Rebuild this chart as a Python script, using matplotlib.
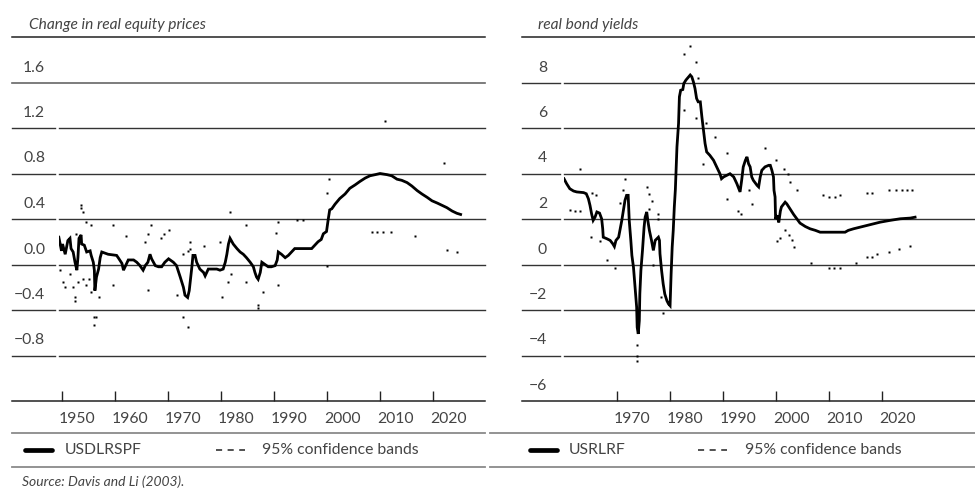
import matplotlib.pyplot as plt
from matplotlib.transforms import blended_transform_factory, ScaledTranslation

plt.rcParams['font.family'] = ['Lato', 'DejaVu Sans']

# ---- left panel: change in real equity prices ----
eq_years = [1949.4, 1949.9, 1950.1, 1950.6, 1951.1, 1951.5, 1951.7, 1952.1, 1952.45, 1952.8,
            1953.0, 1953.2, 1953.6, 1953.7, 1954.2, 1954.65, 1955.3, 1955.5, 1955.9, 1956.1,
            1956.2, 1956.5, 1956.9, 1957.2, 1957.5, 1958.7, 1960.3, 1960.6, 1961.3, 1961.6,
            1961.9, 1962.5, 1963.5, 1964.1, 1964.7, 1965.3, 1965.7, 1966.2, 1966.6, 1966.9,
            1967.6, 1968.2, 1968.8, 1969.4, 1970.1, 1971.0, 1971.6, 1972.3, 1972.9, 1973.2,
            1973.7, 1974.0, 1974.5, 1974.7, 1975.1, 1975.4, 1976.0, 1976.7, 1977.0, 1977.3,
            1977.6, 1979.2, 1979.8, 1980.4, 1980.8, 1981.1, 1981.4, 1981.7, 1982.3, 1983.0,
            1983.6, 1984.2, 1984.8, 1985.5, 1986.1, 1986.4, 1986.7, 1987.0, 1987.4, 1987.7,
            1988.3, 1988.9, 1989.5, 1990.2, 1990.6, 1990.8, 1991.4, 1992.1, 1992.7, 1993.3,
            1993.9, 1997.1, 1997.7, 1998.3, 1998.9, 1999.3, 1999.9, 2000.2, 2000.5, 2000.9,
            2001.5, 2002.4, 2003.4, 2004.3, 2005.3, 2006.2, 2007.2, 2008.1, 2009.1, 2010.0,
            2011.3, 2012.2, 2013.2, 2014.1, 2015.1, 2016.0, 2017.0, 2017.9, 2018.9, 2019.8,
            2020.8, 2021.7, 2022.6, 2023.6, 2024.5, 2025.2]
eq_vals = [0.24, 0.12, 0.18, 0.09, 0.21, 0.23, 0.14, 0.11, 0.02, -0.05,
           0.06, 0.23, 0.26, 0.18, 0.17, 0.11, 0.12, 0.08, 0.02, -0.05,
           -0.23, -0.11, -0.04, 0.06, 0.11, 0.09, 0.08, 0.06, 0.01, -0.05,
           -0.02, 0.04, 0.04, 0.02, -0.01, -0.05, -0.01, 0.02, 0.09, 0.05,
           -0.01, -0.02, -0.02, 0.02, 0.05, 0.02, -0.01, -0.11, -0.20, -0.27,
           -0.29, -0.23, -0.02, 0.08, 0.08, 0.02, -0.04, -0.07, -0.10, -0.07,
           -0.04, -0.04, -0.05, -0.04, 0.02, 0.09, 0.18, 0.23, 0.18, 0.14,
           0.11, 0.09, 0.06, 0.02, -0.02, -0.07, -0.11, -0.13, -0.07, 0.02,
           0.00, -0.02, -0.02, -0.01, 0.04, 0.11, 0.09, 0.06, 0.08, 0.11,
           0.14, 0.14, 0.17, 0.20, 0.22, 0.27, 0.29, 0.39, 0.48, 0.49,
           0.53, 0.58, 0.62, 0.67, 0.70, 0.73, 0.76, 0.78, 0.79, 0.80,
           0.79, 0.78, 0.75, 0.74, 0.72, 0.69, 0.65, 0.62, 0.59, 0.56,
           0.54, 0.52, 0.50, 0.47, 0.45, 0.44]
eq_up_years = [1952.6, 1953.6, 1953.6, 1954.0, 1954.5, 1955.5, 1959.6, 1962.1, 1965.7, 1966.2,
               1966.7, 1968.7, 1969.2, 1970.2, 1972.8, 1973.7, 1974.1, 1974.2, 1976.8, 1979.8,
               1981.7, 1984.7, 1990.3, 1990.8, 1994.4, 1995.4, 1999.9, 2000.4, 2010.9, 2022.1]
eq_up_vals = [0.27, 0.52, 0.50, 0.46, 0.37, 0.35, 0.35, 0.25, 0.20, 0.27,
              0.35, 0.23, 0.27, 0.30, 0.09, 0.12, 0.20, 0.14, 0.16, 0.20,
              0.46, 0.35, 0.28, 0.37, 0.39, 0.39, 0.63, 0.75, 1.26, 0.89]
eq_lo_years = [1949.6, 1950.1, 1950.6, 1951.5, 1952.0, 1952.5, 1952.5, 1953.0, 1954.0, 1954.5,
               1955.0, 1955.5, 1956.1, 1956.5, 1956.1, 1957.0, 1959.6, 1966.2, 1971.6, 1972.8,
               1973.7, 1980.2, 1981.3, 1981.8, 1984.8, 1987.0, 1987.0, 1987.9, 1990.8, 1999.9,
               2008.4, 2009.5, 2010.5, 2012.0, 2016.5, 2022.6, 2024.6]
eq_lo_vals = [-0.05, -0.15, -0.20, -0.08, -0.20, -0.29, -0.32, -0.15, -0.13, -0.18,
              -0.13, -0.24, -0.46, -0.46, -0.53, -0.29, -0.18, -0.22, -0.27, -0.46,
              -0.55, -0.29, -0.15, -0.08, -0.15, -0.36, -0.38, -0.24, -0.18, -0.01,
              0.29, 0.29, 0.29, 0.29, 0.25, 0.13, 0.11]
eq_grid = [1.6, 1.2, 0.8, 0.4, 0.0, -0.4, -0.8]
eq_labels = ['1.6', '1.2', '0.8', '0.4', '0.0', '\u22120.4', '\u22120.8']
eq_xticks = [1950, 1960, 1970, 1980, 1990, 2000, 2010, 2020]

# ---- right panel: real bond yields ----
yld_years = [1960.0, 1960.5, 1961.1, 1961.8, 1962.4, 1963.7, 1964.2, 1964.6, 1964.9, 1965.2,
             1965.5, 1965.85, 1966.2, 1966.7, 1967.1, 1967.3, 1967.4, 1968.1, 1968.7, 1969.2,
             1969.5, 1969.8, 1970.3, 1970.6, 1970.9, 1971.2, 1971.5, 1971.8, 1972.1, 1972.3,
             1972.6, 1972.8, 1973.1, 1973.4, 1973.7, 1973.8, 1974.0, 1974.2, 1974.3, 1974.5,
             1974.8, 1975.1, 1975.3, 1975.6, 1975.8, 1976.1, 1976.5, 1976.85, 1977.2, 1977.5,
             1977.8, 1978.0, 1978.1, 1978.4, 1978.7, 1979.0, 1979.4, 1979.7, 1980.0, 1980.2,
             1980.4, 1980.6, 1980.8, 1981.0, 1981.3, 1981.6, 1981.76, 1982.0, 1982.4, 1982.6,
             1983.0, 1983.5, 1983.8, 1984.1, 1984.4, 1984.7, 1985.0, 1985.3, 1985.7, 1986.0,
             1986.3, 1986.6, 1986.9, 1987.5, 1988.2, 1988.8, 1989.4, 1989.7, 1990.1, 1990.7,
             1991.3, 1992.0, 1992.6, 1993.2, 1993.5, 1993.8, 1994.2, 1994.5, 1994.8, 1995.1,
             1995.4, 1995.7, 1996.4, 1996.7, 1997.0, 1997.3, 1997.9, 1998.6, 1998.9, 1999.2,
             1999.5, 1999.6, 1999.8, 1999.9, 2000.2, 2000.5, 2000.8, 2001.0, 2001.7, 2002.0,
             2002.6, 2003.3, 2003.9, 2004.5, 2005.5, 2006.4, 2007.4, 2008.3, 2013.0, 2013.6,
             2014.6, 2015.8, 2017.1, 2018.3, 2019.6, 2021.5, 2023.4, 2025.3, 2026.2]
yld_vals = [3.77, 3.55, 3.33, 3.23, 3.19, 3.16, 3.11, 2.89, 2.60, 2.23,
            1.94, 2.08, 2.31, 2.26, 2.01, 1.57, 1.20, 1.13, 1.06, 0.91,
            0.79, 1.06, 1.20, 1.57, 1.94, 2.38, 2.82, 3.04, 3.04, 1.94,
            1.06, 0.40, -0.12, -1.00, -1.88, -2.76, -3.05, -2.47, -1.29, -0.26,
            0.62, 1.64, 2.08, 2.31, 1.94, 1.50, 1.06, 0.62, 1.06, 1.13,
            1.20, 1.06, 0.47, -0.26, -0.85, -1.29, -1.59, -1.73, -1.81, -0.41,
            0.76, 1.50, 2.53, 3.30, 5.17, 6.20, 7.37, 7.66, 7.69, 7.96,
            8.11, 8.25, 8.33, 8.25, 8.03, 7.74, 7.30, 7.15, 7.15, 6.49,
            5.90, 5.32, 4.95, 4.80, 4.58, 4.29, 3.99, 3.77, 3.85, 3.92,
            3.99, 3.85, 3.55, 3.19, 3.70, 4.29, 4.58, 4.73, 4.43, 4.29,
            3.85, 3.70, 3.48, 3.41, 3.85, 4.14, 4.29, 4.36, 4.36, 4.14,
            3.85, 3.26, 2.97, 2.00, 2.16, 1.85, 2.35, 2.53, 2.74, 2.67,
            2.45, 2.20, 2.01, 1.82, 1.67, 1.57, 1.50, 1.42, 1.42, 1.50,
            1.57, 1.64, 1.72, 1.79, 1.86, 1.94, 2.01, 2.04, 2.08]
yld_up_years = [1963.0, 1965.2, 1966.1, 1970.6, 1971.2, 1971.5, 1975.7, 1976.0, 1976.1, 1976.5,
                1977.7, 1977.7, 1982.7, 1983.8, 1984.8, 1985.3, 1986.8, 1988.4, 1990.8, 1997.9,
                1999.9, 2001.4, 2002.2, 2002.6, 2003.9, 2008.9, 2009.9, 2011.1, 2012.1, 2017.1,
                2018.0, 2021.2, 2022.6, 2023.7, 2024.6, 2025.7]
yld_up_vals = [4.21, 3.14, 3.04, 2.70, 3.26, 3.77, 3.40, 3.10, 2.45, 2.80,
               2.23, 1.98, 9.25, 9.62, 8.88, 8.21, 6.20, 5.61, 4.92, 5.14,
               4.58, 4.21, 3.99, 3.63, 3.26, 3.04, 2.97, 2.97, 3.07, 3.16,
               3.16, 3.26, 3.26, 3.26, 3.26, 3.26]
yld_lo_years = [1961.1, 1962.1, 1963.0, 1965.1, 1966.7, 1968.1, 1969.6, 1973.85, 1973.85, 1973.85,
                1976.7, 1978.3, 1978.7, 1982.7, 1984.8, 1986.3, 1990.8, 1992.9, 1993.3, 1994.9,
                1995.5, 2000.2, 2000.7, 2001.6, 2002.5, 2002.9, 2003.4, 2006.5, 2009.9, 2011.0,
                2012.0, 2015.1, 2017.1, 2018.0, 2019.1, 2021.2, 2023.2, 2025.2]
yld_lo_vals = [2.41, 2.33, 2.33, 1.19, 1.03, 0.21, -0.15, -3.52, -4.00, -4.23,
               -0.02, -1.42, -2.14, 6.78, 6.45, 4.43, 2.90, 2.35, 2.20, 3.26,
               2.67, 1.03, 1.17, 1.53, 1.28, 1.06, 0.79, 0.07, -0.15, -0.15,
               -0.15, 0.07, 0.32, 0.32, 0.44, 0.54, 0.69, 0.81]
yld_grid = [8, 6, 4, 2, 0, -2, -4]
yld_label_vals = [8, 6, 4, 2, 0, -2, -4, -6]
yld_labels = ['8', '6', '4', '2', '0', '\u22122', '\u22124', '\u22126']
yld_xticks = [1970, 1980, 1990, 2000, 2010, 2020]

W, H = 975, 491
TXT = '#444444'
FS = 11.3
fig = plt.figure(figsize=(W / 100, H / 100), dpi=100)


def fx(x):
    return x / W


def fy(y):
    return 1 - y / H


def panel(x0, x1, rule_l, gap_l, lab_r, xlim, ylim, grid, lab_vals, labels, xticks,
          title, title_x, xs, ys, ux, uy, lx, ly, no_gap=()):
    ax = fig.add_axes([fx(x0), fy(401), fx(x1) - fx(x0), fy(37) - fy(401)])
    ax.set_xlim(xlim)
    ax.set_ylim(ylim)
    for s in ax.spines.values():
        s.set_visible(False)
    ax.set_yticks([])
    ax.set_xticks(xticks)
    ax.set_xticklabels([str(t) for t in xticks])
    ax.tick_params(axis='x', direction='in', length=7, width=1, color='#222222',
                   pad=8, labelsize=FS, labelcolor=TXT)
    for lab in ax.get_xticklabels():
        lab.set_transform(lab.get_transform() + ScaledTranslation(0.15, 0, fig.dpi_scale_trans))

    tr = blended_transform_factory(fig.transFigure, ax.transData)
    for v in grid:
        if v in no_gap:
            ax.plot([fx(rule_l), fx(x1)], [v, v], transform=tr, clip_on=False,
                    color='#666666', lw=1.2)
        else:
            ax.plot([fx(rule_l), fx(gap_l)], [v, v], transform=tr, clip_on=False,
                    color='#333333', lw=1)
            ax.plot([fx(x0), fx(x1)], [v, v], transform=tr, clip_on=False,
                    color='#333333', lw=1)
    for v in ylim:
        ax.plot([fx(rule_l), fx(x1)], [v, v], transform=tr, clip_on=False, color='#222222', lw=1.1)
    for v, s in zip(lab_vals, labels):
        ax.annotate(s, xy=(fx(lab_r), v), xycoords=tr, xytext=(0, 15), textcoords='offset pixels',
                    ha='right', va='center', fontsize=FS, color=TXT)

    ax.plot(xs, ys, color='black', lw=2.0, solid_joinstyle='miter')
    ax.plot(ux, uy, 's', ms=2.0, color='black', mec='none')
    ax.plot(lx, ly, 's', ms=2.0, color='black', mec='none')
    fig.text(fx(title_x), fy(25), title, fontsize=11.2, style='italic', color=TXT, va='center')
    return ax


panel(59, 485, 12, 55, 45, (1949.43, 2029.8), (-1.2, 2.0), eq_grid, eq_grid, eq_labels,
      eq_xticks, 'Change in real equity prices', 29,
      eq_years, eq_vals, eq_up_years, eq_up_vals, eq_lo_years, eq_lo_vals, no_gap=(1.6,))
panel(564, 975, 522, 560, 547, (1960.0, 2037.5), (-6, 10), yld_grid, yld_label_vals, yld_labels,
      yld_xticks, 'real bond yields', 538,
      yld_years, yld_vals, yld_up_years, yld_up_vals, yld_lo_years, yld_lo_vals)

# legend strips
for a, b in [(12, 485), (490, 975)]:
    for y in (433, 467):
        fig.add_artist(plt.Line2D([fx(a), fx(b)], [fy(y), fy(y)], color='#8a8a8a', lw=1.3))

legends = [(25, 52, 65, 'USDLRSPF', 216, 245, 262),
           (530, 557, 569, 'USRLRF', 698, 727, 745)]
for s0, s1, tx, name, d0, d1, dtx in legends:
    fig.add_artist(plt.Line2D([fx(s0), fx(s1)], [fy(450), fy(450)], color='black', lw=3.4,
                              solid_capstyle='round'))
    fig.text(fx(tx), fy(450), name, fontsize=FS, color=TXT, va='center')
    fig.add_artist(plt.Line2D([fx(d0), fx(d1)], [fy(450), fy(450)], color='#222222', lw=1.1,
                              linestyle=(0, (4, 3.6))))
    fig.text(fx(dtx), fy(450), '95% confidence bands', fontsize=FS, color=TXT, va='center')

fig.text(fx(22), fy(482), 'Source: Davis and Li (2003).', fontsize=10, style='italic',
         color=TXT, va='center')

fig.savefig('out.png', dpi=100)
